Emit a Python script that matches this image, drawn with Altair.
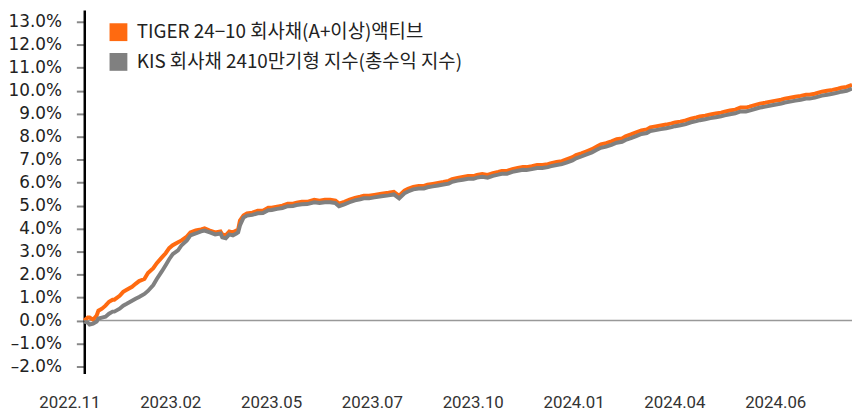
import altair as alt
import pandas as pd

# trading-day index of each sampled point
days = [
    0, 2, 3, 5, 7, 8, 10, 12, 14, 16,
    17, 20, 22, 24, 27, 29, 31, 34, 36, 39,
    41, 44, 46, 48, 50, 53, 55, 58, 60, 63,
    66, 68, 71, 74, 77, 78, 80, 82, 84, 86,
    87, 88, 90, 92, 95, 98, 101, 104, 106, 109,
    112, 115, 118, 120, 123, 126, 130, 133, 136, 139,
    142, 144, 147, 150, 153, 156, 158, 161, 164, 168,
    172, 175, 178, 181, 183, 186, 189, 192, 194, 197,
    200, 203, 206, 208, 211, 214, 217, 220, 222, 225,
    228, 231, 234, 236, 239, 242, 245, 248, 250, 253,
    256, 259, 262, 264, 267, 270, 273, 276, 278, 281,
    284, 287, 290, 292, 295, 298, 301, 304, 306, 309,
    312, 315, 318, 320, 323, 326, 329, 332, 334, 337,
    340, 343, 346, 348, 351, 354, 357, 360, 362, 365,
    368, 371, 374, 376, 380, 382, 385, 388, 391, 394,
    396, 399, 402, 405, 408, 410, 413, 417, 420, 423,
    426, 428, 431, 434,
]

tiger = [
    0.00, 0.13, 0.13, 0.04, 0.22, 0.43, 0.52, 0.65, 0.82, 0.91,
    0.91, 1.08, 1.25, 1.34, 1.47, 1.60, 1.72, 1.81, 2.07, 2.28,
    2.50, 2.76, 2.93, 3.15, 3.28, 3.41, 3.49, 3.66, 3.84, 3.92,
    3.97, 4.01, 3.92, 3.84, 3.88, 3.75, 3.71, 3.88, 3.84, 3.92,
    3.97, 4.35, 4.57, 4.66, 4.70, 4.78, 4.78, 4.91, 4.91, 4.96,
    5.00, 5.09, 5.09, 5.13, 5.17, 5.17, 5.26, 5.22, 5.26, 5.26,
    5.22, 5.09, 5.17, 5.26, 5.34, 5.39, 5.43, 5.43, 5.47, 5.52,
    5.56, 5.60, 5.43, 5.65, 5.73, 5.82, 5.86, 5.86, 5.91, 5.95,
    5.99, 6.03, 6.08, 6.16, 6.21, 6.25, 6.29, 6.29, 6.34, 6.38,
    6.34, 6.42, 6.47, 6.51, 6.51, 6.59, 6.64, 6.68, 6.68, 6.72,
    6.77, 6.77, 6.81, 6.85, 6.90, 6.94, 7.03, 7.11, 7.20, 7.28,
    7.37, 7.46, 7.59, 7.67, 7.72, 7.80, 7.89, 7.93, 8.02, 8.10,
    8.19, 8.28, 8.32, 8.41, 8.45, 8.49, 8.53, 8.58, 8.62, 8.66,
    8.71, 8.79, 8.84, 8.88, 8.92, 8.97, 9.01, 9.05, 9.09, 9.14,
    9.18, 9.27, 9.27, 9.31, 9.40, 9.44, 9.48, 9.53, 9.57, 9.61,
    9.66, 9.70, 9.74, 9.78, 9.83, 9.83, 9.87, 9.96, 10.00, 10.04,
    10.09, 10.13, 10.17, 10.26,
]

kis = [
    -0.04, -0.09, -0.17, -0.13, -0.04, 0.09, 0.13, 0.17, 0.30, 0.39,
    0.39, 0.52, 0.65, 0.73, 0.86, 0.95, 1.03, 1.16, 1.29, 1.55,
    1.81, 2.16, 2.41, 2.67, 2.89, 3.06, 3.28, 3.49, 3.71, 3.79,
    3.88, 3.92, 3.84, 3.75, 3.79, 3.62, 3.58, 3.75, 3.71, 3.79,
    3.84, 4.14, 4.48, 4.57, 4.60, 4.67, 4.68, 4.80, 4.81, 4.86,
    4.90, 4.98, 4.99, 5.03, 5.06, 5.07, 5.15, 5.12, 5.15, 5.15,
    5.11, 4.98, 5.06, 5.15, 5.23, 5.28, 5.32, 5.32, 5.36, 5.41,
    5.45, 5.49, 5.32, 5.54, 5.62, 5.71, 5.75, 5.75, 5.80, 5.84,
    5.88, 5.92, 5.96, 6.04, 6.09, 6.13, 6.17, 6.17, 6.22, 6.26,
    6.22, 6.30, 6.35, 6.39, 6.39, 6.47, 6.52, 6.56, 6.55, 6.59,
    6.64, 6.64, 6.68, 6.72, 6.77, 6.81, 6.89, 6.97, 7.06, 7.14,
    7.23, 7.32, 7.44, 7.52, 7.57, 7.65, 7.74, 7.78, 7.86, 7.94,
    8.03, 8.12, 8.16, 8.25, 8.29, 8.33, 8.37, 8.42, 8.46, 8.50,
    8.55, 8.63, 8.68, 8.72, 8.76, 8.81, 8.85, 8.89, 8.93, 8.98,
    9.02, 9.10, 9.10, 9.14, 9.23, 9.27, 9.31, 9.36, 9.40, 9.44,
    9.49, 9.53, 9.57, 9.61, 9.66, 9.66, 9.70, 9.79, 9.83, 9.87,
    9.92, 9.96, 10.00, 10.09,
]

series_names = ["TIGER 24−10 회사채(A+이상)액티브", "KIS 회사채 2410만기형 지수(총수익 지수)"]
series_colors = ["#FF6A10", "#808080"]

tick_days = [0, 57, 114, 171, 228, 285, 342, 399]
tick_labels = ["2022.11", "2023.02", "2023.05", "2023.07", "2023.10", "2024.01", "2024.04", "2024.06"]
y_ticks = list(range(-2, 14))

rows = []
for d, t, k in zip(days, tiger, kis):
    rows.append({"day": d, "value": t, "series": series_names[0]})
    rows.append({"day": d, "value": k, "series": series_names[1]})
df = pd.DataFrame(rows)

label_map = "{" + ",".join(f"'{d}':'{l}'" for d, l in zip(tick_days, tick_labels)) + "}"

FONT = "Noto Sans CJK KR"

x_axis = alt.Axis(
    values=tick_days,
    labelExpr=f"{label_map}[''+datum.value]",
    ticks=False,
    tickSize=0,
    domain=False,
    grid=False,
    labelPadding=21,
    labelOffset=-15,
    labelFlush=False,
    labelOverlap=False,
    labelFontSize=17,
    labelColor="#333333",
    labelFont="Roboto",
    title=None,
)
x_scale = alt.Scale(domain=[0, 434], nice=False, zero=False)

y_axis = alt.Axis(
    values=y_ticks,
    tickCount=16,
    labelExpr="(datum.value < 0 ? '–' : '') + format(abs(datum.value), '.1f') + '%'",
    grid=False,
    domain=True,
    domainColor="#000000",
    domainWidth=2.5,
    ticks=True,
    tickColor="#888888",
    tickWidth=2,
    tickSize=8,
    labelPadding=15,
    labelOverlap=False,
    labelFlush=False,
    labelFontSize=17,
    labelColor="#222222",
    labelFont="DejaVu Sans",
    title=None,
)
y_scale = alt.Scale(domain=[-2.3, 13.52], nice=False, zero=False)

color_enc = alt.Color(
    "series:N",
    scale=alt.Scale(domain=series_names, range=series_colors),
    legend=alt.Legend(
        title=None,
        orient="none",
        legendX=25,
        legendY=13,
        padding=0,
        symbolType="square",
        symbolSize=324,
        symbolStrokeWidth=0,
        labelFontSize=19,
        labelFont=FONT,
        labelColor="#222222",
        labelOffset=9,
        labelLimit=500,
        rowPadding=10,
    ),
)

# empty filled-square layer that only carries the legend symbols
legend_layer = (
    alt.Chart(df)
    .transform_filter("false")
    .mark_square(filled=True, opacity=1)
    .encode(
        x=alt.X("day:Q", scale=x_scale, axis=x_axis),
        y=alt.Y("value:Q", scale=y_scale, axis=y_axis),
        color=color_enc,
    )
)

zero_df = pd.DataFrame({"value": [0]})
zero = alt.Chart(zero_df).mark_rule(color="#999999", strokeWidth=1.5).encode(
    y=alt.Y("value:Q", scale=y_scale, axis=y_axis)
)

lines = alt.Chart(df).mark_line(strokeWidth=4).encode(
    x=alt.X("day:Q", scale=x_scale, axis=x_axis),
    y=alt.Y("value:Q", scale=y_scale, axis=y_axis),
    color=color_enc,
)

chart = (
    alt.layer(legend_layer, zero, lines)
    .properties(
        width=775,
        height=367,
        padding={"left": 77, "top": 0, "right": 0, "bottom": 36},
        autosize=alt.AutoSizeParams(type="none"),
    )
    .configure_view(stroke=None)
)

chart.save("out.html", embed_options={"renderer": "svg", "actions": False})
